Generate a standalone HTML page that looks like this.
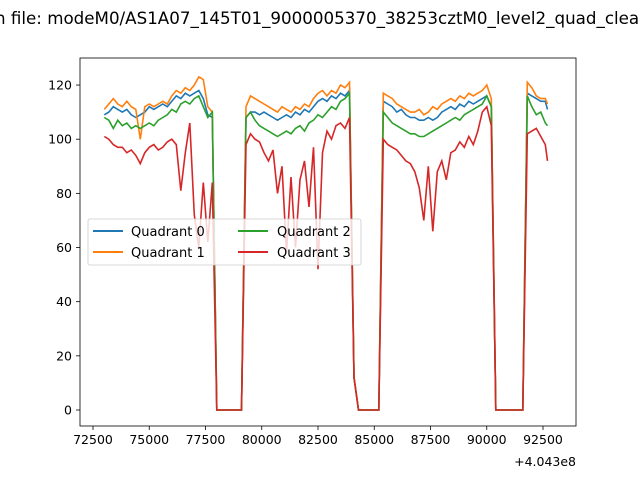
<!DOCTYPE html>
<html><head><meta charset="utf-8"><style>
body{margin:0;background:#fff}
svg{display:block;font-family:"DejaVu Sans","Liberation Sans",sans-serif}
</style></head><body>
<svg id="chart" width="640" height="480" viewBox="0 0 640 480" xmlns="http://www.w3.org/2000/svg">
<rect width="640" height="480" fill="#fff"/>
<text x="-5" y="24" font-size="16.7" fill="#000">n file: modeM0/AS1A07_145T01_9000005370_38253cztM0_level2_quad_clean.evt</text>
<g id="series"></g>
<rect x="80" y="58" width="496" height="368" fill="none" stroke="#000" stroke-width="0.8"/>
<g id="axes" font-size="12.5" fill="#000"></g>
<text x="576" y="466" font-size="12.5" text-anchor="end">+4.043e8</text>
<g>
<rect x="88" y="219" width="273" height="46" rx="2" fill="#fff" fill-opacity="0.8" stroke="#ccc" stroke-width="0.8"/>
<line x1="93" y1="231" x2="123" y2="231" stroke="#1f77b4" stroke-width="2"/>
<text x="131" y="236" font-size="13">Quadrant 0</text>
<line x1="93" y1="252" x2="123" y2="252" stroke="#ff7f0e" stroke-width="2"/>
<text x="131" y="257" font-size="13">Quadrant 1</text>
<line x1="238" y1="231" x2="268" y2="231" stroke="#2ca02c" stroke-width="2"/>
<text x="277" y="236" font-size="13">Quadrant 2</text>
<line x1="238" y1="252" x2="268" y2="252" stroke="#d62728" stroke-width="2"/>
<text x="277" y="257" font-size="13">Quadrant 3</text>
</g>
</svg>
<script>
const times = [73000,73200,73400,73600,73800,74000,74200,74400,74600,74800,75000,75200,75400,75600,75800,76000,76200,76400,76600,76800,77000,77200,77400,77600,77800,
78000,79100,
79300,79500,79700,79900,80100,80300,80500,80700,80900,81100,81300,81500,81700,81900,82100,82300,82500,82700,82900,83100,83300,83500,83700,83900,84100,
84300,85200,
85400,85600,85800,86000,86200,86400,86600,86800,87000,87200,87400,87600,87800,88000,88200,88400,88600,88800,89000,89200,89400,89600,89800,90000,90200,
90400,91600,
91800,92000,92200,92400,92600,92700];
const q0 = [109,110,112,111,110,111,109,108,109,110,112,111,112,113,112,114,116,115,117,116,117,118,115,109,108, 0,0,
108,110,110,109,110,109,108,107,108,109,108,110,109,111,110,112,114,115,114,116,115,117,116,118,12, 0,0,
114,113,112,110,111,109,108,108,107,107,108,107,108,110,111,112,111,113,112,114,113,114,115,116,112, 0,0,
117,116,115,114,114,111];
const q1 = [111,113,115,113,112,114,112,111,100,112,113,112,113,114,113,116,118,117,119,118,120,123,122,112,110, 0,0,
112,116,115,114,113,112,111,110,112,111,110,112,111,113,112,115,117,118,116,118,117,120,119,121,12, 0,0,
117,116,115,113,112,111,110,110,111,109,110,112,111,113,114,115,114,116,115,117,116,117,118,120,115, 0,0,
121,119,116,115,115,113];
const q2 = [108,107,104,107,105,106,104,105,104,105,106,105,107,108,109,111,110,113,114,113,115,116,112,108,110, 0,0,
108,110,107,105,104,103,102,101,102,103,102,104,105,103,106,107,109,108,110,112,111,114,115,117,12, 0,0,
110,108,106,105,104,103,102,102,101,101,102,103,104,105,106,107,108,107,109,110,111,112,113,116,112, 0,0,
116,112,109,110,106,105];
const q3 = [101,100,98,97,97,95,96,94,91,95,97,98,96,97,99,100,98,81,95,106,72,60,84,62,84, 0,0,
98,102,100,99,95,92,96,80,90,58,86,60,85,92,75,97,52,95,103,100,105,106,104,108,12, 0,0,
100,98,97,96,94,92,91,88,82,70,90,66,88,92,85,95,96,99,97,101,98,103,110,112,105, 0,0,
102,103,104,101,98,92];
const xTicks = [72500,75000,77500,80000,82500,85000,87500,90000,92500];
const xTickLabels = ["72500","75000","77500","80000","82500","85000","87500","90000","92500"];
const yTicks = [0,20,40,60,80,100,120];
const yTickLabels = ["0","20","40","60","80","100","120"];

const NS = "http://www.w3.org/2000/svg";
const X = v => 93 + (v - 72500) * 0.0225;
const Y = v => 410 - v * 2.708;

const sg = document.getElementById("series");
const series = [[q0,"#1f77b4","series-quadrant-0"],[q1,"#ff7f0e","series-quadrant-1"],[q2,"#2ca02c","series-quadrant-2"],[q3,"#d62728","series-quadrant-3"]];
series.forEach(([vals,color,name]) => {
  const p = document.createElementNS(NS,"polyline");
  p.setAttribute("points", times.map((t,i)=>X(t).toFixed(1)+","+Y(vals[i]).toFixed(1)).join(" "));
  p.setAttribute("fill","none");
  p.setAttribute("stroke",color);
  p.setAttribute("stroke-width","1.6");
  
  
  sg.appendChild(p);
});

const ax = document.getElementById("axes");
xTicks.forEach((t,i) => {
  const l = document.createElementNS(NS,"line");
  l.setAttribute("x1",X(t)); l.setAttribute("x2",X(t));
  l.setAttribute("y1",426); l.setAttribute("y2",430);
  l.setAttribute("stroke","#000"); l.setAttribute("stroke-width","0.8");
  
  
  ax.appendChild(l);
  const tx = document.createElementNS(NS,"text");
  tx.setAttribute("x",X(t)); tx.setAttribute("y",444);
  tx.setAttribute("text-anchor","middle");
  tx.textContent = xTickLabels[i];
  
  
  ax.appendChild(tx);
});
yTicks.forEach((t,i) => {
  const l = document.createElementNS(NS,"line");
  l.setAttribute("x1",76); l.setAttribute("x2",80);
  l.setAttribute("y1",Y(t)); l.setAttribute("y2",Y(t));
  l.setAttribute("stroke","#000"); l.setAttribute("stroke-width","0.8");
  
  
  ax.appendChild(l);
  const tx = document.createElementNS(NS,"text");
  tx.setAttribute("x",72); tx.setAttribute("y",Y(t)+4.5);
  tx.setAttribute("text-anchor","end");
  tx.textContent = yTickLabels[i];
  
  
  ax.appendChild(tx);
});
</script>
</body></html>
